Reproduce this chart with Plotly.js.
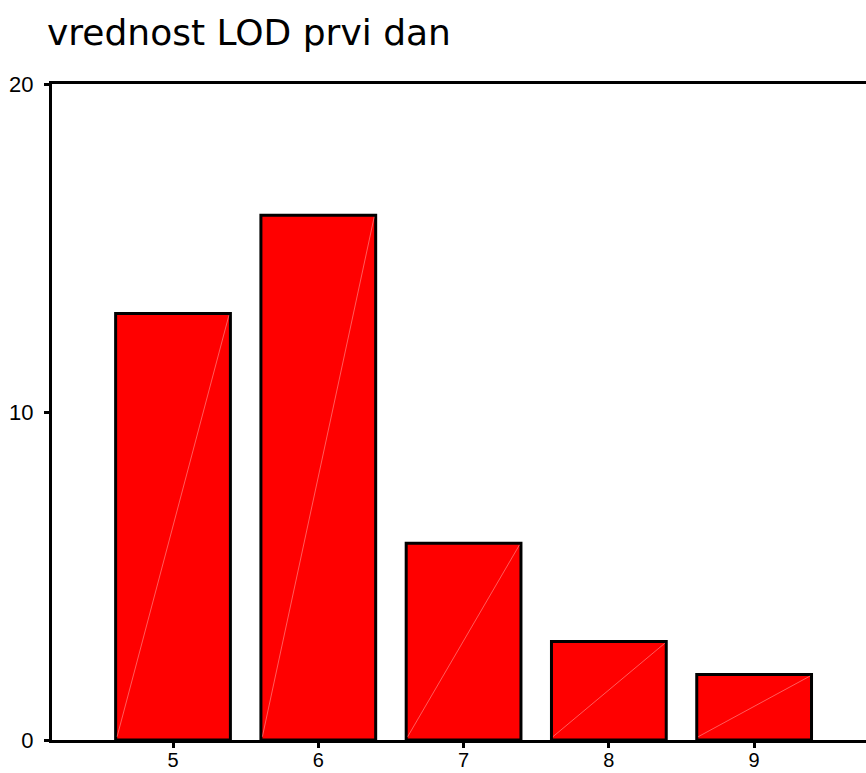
<!DOCTYPE html>
<html>
<head>
<meta charset="utf-8">
<script src="https://cdn.plot.ly/plotly-3.0.1.min.js"></script>
<style>html,body{margin:0;padding:0;background:#fff;}#chart{width:866px;height:773px;}</style>
</head>
<body>
<div id="chart"></div>
<script>
const categories = [5, 6, 7, 8, 9];
const counts = [13, 16, 6, 3, 2];
const yTicks = [0, 10, 20];
const titleText = "vrednost LOD prvi dan";
const barWidth = 0.79;

const trace = {
  type: 'bar',
  x: categories,
  y: counts,
  width: barWidth,
  marker: {color: '#ff0000', line: {color: '#000000', width: 3}},
  hoverinfo: 'x+y'
};

// faint diagonal rendering line inside each bar (bottom-left to top-right)
const diagX = [], diagY = [];
categories.forEach((c, i) => {
  diagX.push(c - barWidth / 2 + 0.01, c + barWidth / 2 - 0.01, null);
  diagY.push(0.1, counts[i] - 0.05, null);
});
const diag = {
  type: 'scatter',
  mode: 'lines',
  x: diagX,
  y: diagY,
  line: {color: 'rgba(255,170,170,0.9)', width: 0.6},
  hoverinfo: 'skip'
};

const layout = {
  width: 866,
  height: 773,
  margin: {l: 52, r: 0, t: 84, b: 33},
  paper_bgcolor: '#ffffff',
  plot_bgcolor: '#ffffff',
  showlegend: false,
  font: {family: '"Liberation Sans", Arial, sans-serif', color: '#000000', size: 22},
  title: {
    text: titleText,
    font: {family: '"DejaVu Sans", sans-serif', size: 36, color: '#000000'},
    xref: 'container', yref: 'container',
    x: 47 / 866, xanchor: 'left',
    y: 1 - 32 / 773, yanchor: 'middle'
  },
  xaxis: {
    range: [4.167, 9.77],
    tickvals: categories,
    ticktext: categories.map(String),
    showgrid: false,
    zeroline: false,
    showline: true,
    linecolor: '#000000',
    linewidth: 3,
    mirror: true,
    ticks: 'outside',
    ticklen: 5,
    tickwidth: 3,
    tickcolor: '#000000',
    tickfont: {family: '"Liberation Sans", Arial, sans-serif', size: 20, color: '#000000'},
    ticklabelstandoff: -5
  },
  yaxis: {
    range: [0, 20],
    tickvals: yTicks,
    ticktext: yTicks.map(String),
    showgrid: false,
    zeroline: false,
    showline: true,
    linecolor: '#000000',
    linewidth: 3,
    mirror: false,
    ticks: 'outside',
    ticklen: 5,
    tickwidth: 3,
    tickcolor: '#000000',
    tickfont: {family: '"Liberation Sans", Arial, sans-serif', size: 22, color: '#000000'},
    ticklabelstandoff: 6
  }
};

Plotly.newPlot('chart', [trace, diag], layout, {staticPlot: true, displayModeBar: false});
</script>
</body>
</html>
